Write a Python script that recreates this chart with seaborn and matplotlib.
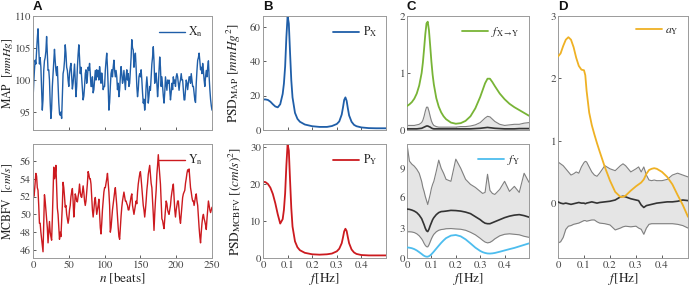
import numpy as np
import pandas as pd
import matplotlib
matplotlib.use("Agg")
import matplotlib.pyplot as plt
import seaborn as sns

# ---------------- data ----------------
map_series = [
    96.9, 99.5, 101.5, 103.1, 102.5, 104.5, 106.5, 108.0, 105.0, 102.5,
    103.5, 102.0, 98.5, 95.3, 97.0, 101.5, 103.0, 103.5, 104.5, 106.8,
    104.0, 101.5, 101.6, 100.0, 96.5, 94.0, 95.5, 99.0, 101.0, 103.0,
    104.8, 103.0, 101.5, 100.7, 102.1, 99.5, 96.5, 94.8, 94.5, 95.0,
    94.0, 97.5, 101.0, 101.6, 103.0, 105.5, 104.2, 102.0, 101.5, 100.0,
    99.0, 101.0, 102.0, 102.6, 100.5, 98.6, 99.5, 101.0, 102.5, 100.0,
    97.4, 99.0, 102.0, 104.0, 105.5, 103.5, 101.0, 102.0, 100.3, 98.5,
    96.9, 97.5, 99.0, 101.0, 101.6, 99.5, 100.5, 102.0, 101.5, 102.6,
    101.0, 99.0, 99.0, 100.5, 98.0, 98.5, 100.0, 101.5, 100.0, 101.6,
    100.5, 101.5, 100.0, 102.1, 101.0, 99.5, 101.1, 100.0, 98.5, 99.0,
    99.0, 101.5, 103.0, 104.2, 102.0, 99.0, 95.3, 96.5, 99.0, 101.0,
    101.6, 100.5, 102.0, 103.1, 101.5, 100.5, 101.5, 100.5, 98.5, 99.5,
    97.4, 98.5, 100.5, 102.1, 101.0, 99.5, 100.0, 101.5, 100.0, 98.5,
    100.5, 101.6, 100.0, 101.0, 99.0, 99.5, 101.5, 103.5, 106.3, 105.0,
    104.7, 102.0, 103.5, 104.2, 102.0, 99.0, 97.4, 98.5, 100.5, 101.0,
    100.5, 101.6, 100.0, 98.0, 96.4, 97.0, 95.3, 96.5, 99.0, 100.5,
    99.0, 96.4, 97.5, 99.0, 98.4, 100.5, 102.5, 103.6, 105.2, 103.0,
    99.5, 100.5, 101.1, 99.5, 97.4, 99.0, 101.5, 103.6, 102.0, 99.0,
    100.5, 99.0, 97.5, 96.4, 98.0, 100.5, 99.5, 98.4, 100.0, 99.5,
    100.0, 98.5, 96.9, 98.0, 99.5, 98.5, 100.5, 99.5, 100.0, 99.0,
    100.5, 101.0, 100.5, 99.5, 98.4, 99.5, 100.0, 101.0, 100.0, 100.0,
    98.5, 96.9, 96.9, 98.5, 100.0, 99.5, 98.5, 99.5, 100.5, 100.5,
    99.5, 101.0, 100.0, 99.0, 99.0, 98.0, 96.9, 96.5, 99.5, 101.5,
    103.1, 103.5, 104.2, 103.0, 101.6, 102.0, 101.0, 102.6, 101.5, 100.0,
    99.0, 100.5, 101.5, 100.5, 102.0, 103.0, 100.5, 98.5, 97.0, 96.0, 95.3,
]
mcbfv_series = [
    52.8, 52.0, 52.5, 53.5, 54.6, 54.3, 53.0, 52.7, 51.0, 49.0,
    49.0, 48.0, 47.3, 46.5, 45.8, 49.0, 52.2, 51.5, 50.5, 49.5,
    48.5, 46.8, 48.0, 49.2, 48.0, 47.5, 47.1, 49.5, 52.5, 55.3,
    54.0, 54.5, 55.5, 53.0, 50.7, 50.0, 48.5, 47.2, 48.0, 47.5,
    49.3, 51.0, 53.6, 53.0, 52.0, 50.8, 51.0, 50.0, 49.5, 49.0,
    49.5, 50.5, 51.0, 52.0, 52.5, 52.9, 51.5, 49.7, 50.8, 52.3,
    52.0, 51.5, 51.4, 52.0, 52.5, 53.4, 52.5, 52.0, 51.9, 52.5,
    53.2, 52.5, 51.5, 51.0, 51.5, 52.5, 53.5, 54.8, 54.5, 54.0,
    54.0, 53.4, 52.0, 50.5, 49.7, 50.5, 51.5, 51.9, 51.0, 50.0,
    50.5, 51.0, 51.7, 50.0, 48.5, 47.8, 49.0, 50.5, 51.5, 52.5,
    53.0, 53.0, 53.5, 54.0, 54.6, 53.5, 52.5, 51.0, 48.0, 48.5,
    49.5, 50.5, 51.2, 52.0, 52.5, 53.0, 52.0, 51.0, 49.7, 48.5,
    47.5, 47.2, 48.5, 49.8, 50.8, 51.5, 52.0, 52.5, 52.0, 51.5,
    51.5, 51.2, 51.0, 50.5, 50.5, 51.0, 51.5, 52.0, 52.3, 51.0,
    50.5, 50.0, 50.5, 51.0, 51.5, 51.2, 52.5, 53.4, 54.0, 54.5,
    54.8, 54.0, 53.0, 51.9, 51.0, 50.5, 49.7, 50.5, 51.5, 52.7,
    53.5, 54.5, 55.0, 55.5, 54.5, 53.5, 53.0, 51.5, 50.0, 48.2,
    50.0, 51.5, 52.7, 54.5, 55.5, 56.7, 55.5, 54.5, 53.4, 51.5,
    49.5, 49.3, 48.8, 48.4, 49.5, 50.5, 51.5, 51.2, 50.5, 50.2,
    50.0, 50.5, 51.0, 51.9, 52.5, 53.0, 53.4, 52.0, 50.5, 49.7,
    50.5, 51.0, 51.5, 51.5, 50.5, 49.5, 49.0, 50.0, 51.0, 51.9,
    52.3, 52.5, 52.7, 53.5, 54.0, 54.6, 55.0, 54.8, 55.1, 54.0,
    53.0, 52.5, 51.9, 51.5, 51.5, 51.0, 51.5, 52.0, 52.3, 51.5,
    51.0, 49.7, 48.5, 47.5, 46.8, 48.0, 49.0, 49.7, 50.0, 49.5,
    49.2, 48.8, 48.3, 49.5, 50.5, 51.5, 51.0, 50.5, 50.2, 50.5, 50.8,
]
beats = list(range(len(map_series)))

# Panel B: power spectral densities
freq_b = [0, 0.01, 0.02, 0.03, 0.04, 0.05, 0.06, 0.07, 0.08, 0.085, 0.09, 0.095,
          0.1, 0.105, 0.11, 0.115, 0.12, 0.13, 0.14, 0.15, 0.17, 0.2, 0.23, 0.26,
          0.28, 0.3, 0.31, 0.32, 0.325, 0.33, 0.335, 0.34, 0.345, 0.35, 0.36,
          0.37, 0.38, 0.4, 0.43, 0.46, 0.5]
psd_x = [17.8, 17.8, 17.5, 16.5, 15.0, 13.7, 13.2, 15.0, 21.0, 27.0, 37.0, 54.0,
         66.4, 62.0, 45.0, 29.0, 19.0, 10.0, 6.5, 4.8, 3.2, 2.2, 1.8, 1.8,
         2.3, 3.5, 5.0, 9.0, 13.0, 17.5, 19.0, 17.0, 12.5, 8.5, 4.8,
         3.0, 2.2, 1.5, 1.1, 1.0, 1.0]
psd_y = [20.6, 20.5, 20.0, 19.0, 17.3, 14.8, 11.8, 9.3, 10.5, 13.0, 17.5, 25.0,
         30.8, 29.0, 21.0, 13.5, 8.5, 4.5, 2.9, 2.1, 1.4, 1.0, 0.9, 1.0,
         1.2, 1.8, 2.5, 4.0, 5.5, 7.2, 7.9, 7.3, 5.6, 4.0, 2.3,
         1.5, 1.1, 0.8, 0.7, 0.7, 0.7]

# Panel C: causal (X->Y) and self measures with surrogate bands
freq_c = [0, 0.01, 0.02, 0.03, 0.04, 0.05, 0.06, 0.065, 0.07, 0.075, 0.08, 0.085,
          0.09, 0.095, 0.1, 0.105, 0.11, 0.12, 0.13, 0.14, 0.15, 0.16, 0.18, 0.2,
          0.22, 0.24, 0.26, 0.28, 0.3, 0.31, 0.32, 0.33, 0.34, 0.35, 0.36, 0.38,
          0.4, 0.42, 0.44, 0.46, 0.48, 0.5]
f_xy = [0.42, 0.45, 0.49, 0.55, 0.64, 0.78, 1.0, 1.18, 1.42, 1.68, 1.87, 1.9,
        1.75, 1.48, 1.2, 0.97, 0.8, 0.56, 0.41, 0.31, 0.24, 0.19, 0.13, 0.11,
        0.12, 0.16, 0.24, 0.38, 0.58, 0.7, 0.82, 0.9, 0.9, 0.84, 0.77, 0.64,
        0.54, 0.46, 0.4, 0.35, 0.3, 0.25]
f_xy_hi = [0.08, 0.08, 0.08, 0.08, 0.09, 0.1, 0.13, 0.17, 0.24, 0.33, 0.4, 0.4,
           0.33, 0.24, 0.16, 0.11, 0.08, 0.06, 0.05, 0.05, 0.05, 0.05, 0.05, 0.05,
           0.06, 0.06, 0.07, 0.09, 0.13, 0.17, 0.21, 0.24, 0.23, 0.19, 0.15, 0.1,
           0.08, 0.09, 0.1, 0.1, 0.12, 0.13]
f_xy_med = [0.02, 0.02, 0.02, 0.02, 0.02, 0.025, 0.03, 0.04, 0.05, 0.06, 0.07, 0.07,
            0.06, 0.05, 0.035, 0.025, 0.02, 0.02, 0.02, 0.02, 0.02, 0.02, 0.02, 0.02,
            0.02, 0.02, 0.02, 0.025, 0.03, 0.035, 0.04, 0.045, 0.04, 0.035, 0.03, 0.025,
            0.02, 0.02, 0.02, 0.025, 0.025, 0.025]
f_xy_lo = [0.004] * len(freq_c)

f_y = [1.05, 1.02, 0.97, 0.88, 0.75, 0.58, 0.4, 0.3, 0.22, 0.16, 0.13, 0.13,
       0.18, 0.26, 0.37, 0.5, 0.64, 0.93, 1.22, 1.5, 1.75, 1.97, 2.22, 2.28,
       2.15, 1.85, 1.45, 1.03, 0.7, 0.58, 0.5, 0.45, 0.44, 0.46, 0.5, 0.62,
       0.75, 0.88, 1.0, 1.15, 1.3, 1.45]
f_y_hi = [11.3, 9.6, 9.3, 9.1, 8.8, 8.4, 7.6, 7.0, 6.6, 6.1, 5.7, 5.3,
          5.8, 6.3, 6.9, 7.3, 7.6, 8.6, 9.7, 8.9, 8.4, 7.8, 7.6, 9.8,
          8.9, 7.8, 7.3, 7.0, 6.6, 6.4, 6.5, 8.3, 6.7, 6.4, 6.3, 6.8,
          7.6, 6.6, 7.1, 6.5, 8.4, 7.5]
f_y_med = [4.85, 4.82, 4.75, 4.65, 4.5, 4.25, 3.9, 3.6, 3.3, 2.95, 2.7, 2.62,
           2.85, 3.2, 3.5, 3.8, 4.0, 4.3, 4.5, 4.6, 4.62, 4.65, 4.72, 4.7,
           4.65, 4.55, 4.4, 4.1, 3.8, 3.6, 3.45, 3.4, 3.4, 3.5, 3.6, 3.8,
           4.0, 4.15, 4.25, 4.3, 4.2, 4.05]
f_y_lo = [2.6, 2.6, 2.58, 2.52, 2.4, 2.2, 1.9, 1.7, 1.45, 1.25, 1.12, 1.1,
          1.3, 1.6, 1.9, 2.15, 2.35, 2.6, 2.75, 2.82, 2.85, 2.9, 2.92, 2.88,
          2.85, 2.75, 2.55, 2.3, 1.95, 1.75, 1.58, 1.5, 1.55, 1.7, 1.9, 2.2,
          2.35, 2.4, 2.35, 2.3, 2.15, 2.05]

# Panel D
freq_d = [0, 0.01, 0.02, 0.03, 0.04, 0.05, 0.06, 0.07, 0.08, 0.09, 0.1, 0.105,
          0.11, 0.12, 0.13, 0.14, 0.15, 0.16, 0.18, 0.2, 0.22, 0.24, 0.25, 0.26,
          0.28, 0.3, 0.31, 0.32, 0.33, 0.34, 0.35, 0.36, 0.37, 0.38, 0.4, 0.42,
          0.44, 0.46, 0.48, 0.5]
a_y = [2.35, 2.4, 2.52, 2.62, 2.66, 2.62, 2.5, 2.33, 2.2, 2.14, 2.13, 2.05,
       1.8, 1.45, 1.25, 1.1, 0.96, 0.83, 0.58, 0.36, 0.18, 0.1, 0.1, 0.12,
       0.2, 0.27, 0.3, 0.33, 0.38, 0.47, 0.53, 0.55, 0.56, 0.55, 0.5, 0.42,
       0.3, 0.13, -0.03, -0.22]
a_y_hi = [0.66, 0.63, 0.6, 0.55, 0.5, 0.45, 0.47, 0.5, 0.48, 0.58, 0.65, 0.67,
          0.66, 0.58, 0.5, 0.45, 0.43, 0.48, 0.6, 0.55, 0.52, 0.6, 0.63, 0.6,
          0.5, 0.55, 0.58, 0.5, 0.58, 0.45, 0.37, 0.36, 0.37, 0.36, 0.36, 0.38,
          0.45, 0.48, 0.45, 0.42]
a_y_med = [0.02, 0.0, -0.01, 0.0, -0.01, -0.02, -0.01, 0.0, 0.01, 0.0, 0.0, -0.01,
           0.0, 0.01, 0.02, 0.01, 0.0, 0.01, 0.02, 0.03, 0.05, 0.1, 0.11, 0.1,
           0.07, 0.05, 0.04, -0.03, -0.07, -0.04, -0.03, -0.02, -0.01, 0.0, 0.01, 0.02,
           0.02, 0.03, 0.05, 0.04]
a_y_lo = [-0.64, -0.62, -0.55, -0.42, -0.37, -0.36, -0.34, -0.33, -0.32, -0.3, -0.28, -0.28,
          -0.29, -0.28, -0.27, -0.27, -0.3, -0.32, -0.33, -0.35, -0.43, -0.4, -0.38, -0.37,
          -0.38, -0.37, -0.4, -0.42, -0.5, -0.4, -0.34, -0.33, -0.33, -0.33, -0.33, -0.33,
          -0.33, -0.34, -0.36, -0.4]

# ---------------- style ----------------
sns.set_theme(style="white")
plt.rcParams["font.family"] = ["STIXGeneral", "DejaVu Serif"]
plt.rcParams["mathtext.fontset"] = "stix"

C_BLUE = "#1f5ea8"
C_RED = "#cc1a1f"
C_GREEN = "#78b436"
C_LBLUE = "#4dbdee"
C_ORANGE = "#efb124"
C_BAND = "#e5e5e5"
C_EDGE = "#808080"
C_MED = "#333333"

W, H = 689, 289
fig = plt.figure(figsize=(W / 100, H / 100), dpi=100)


def axes_px(l, t, r, b):
    return fig.add_axes([l / W, 1 - b / H, (r - l) / W, (b - t) / H])


def style_ax(ax):
    for s in ax.spines.values():
        s.set_visible(True)
        s.set_color("#9a9a9a")
        s.set_linewidth(0.7)
    ax.tick_params(direction="in", length=2.5, width=0.6, labelsize=7.8,
                   pad=1.5, colors="#444444", bottom=True, left=True)


def add_legend(ax, label):
    return ax.legend([ax.lines[-1]], [label], loc="upper right", frameon=False,
                     fontsize=8.5, handlelength=2.2, handletextpad=0.3,
                     borderaxespad=0.35)


def band(ax, f, lo, hi, med):
    ax.fill_between(f, lo, hi, color=C_BAND, lw=0, zorder=1)
    sns.lineplot(x=f, y=hi, ax=ax, color=C_EDGE, lw=0.8, zorder=2)
    sns.lineplot(x=f, y=lo, ax=ax, color=C_EDGE, lw=0.8, zorder=2)
    sns.lineplot(x=f, y=med, ax=ax, color=C_MED, lw=1.2, zorder=3)


def set_ylabel_px(ax, text, right_px, left_px, width_px, size=9.5):
    ax.set_ylabel(text, fontsize=size, color="#222222")
    ax.yaxis.set_label_coords((right_px - left_px) / width_px, 0.5)


# ---- Panel A ----
axA1 = axes_px(33, 16, 212, 130)
sns.lineplot(x=beats, y=map_series, ax=axA1, color=C_BLUE, lw=1.0)
axA1.set_xlim(0, 250)
axA1.set_ylim(92.2, 110)
axA1.set_yticks([95, 100, 105, 110])
axA1.set_xticks([0, 50, 100, 150, 200, 250])
axA1.set_xticklabels([])
set_ylabel_px(axA1, r"MAP  $[mmHg]$", 15, 33, 179, size=8.5)
style_ax(axA1)
add_legend(axA1, r"X$_\mathrm{n}$")

axA2 = axes_px(33, 144, 212, 258)
sns.lineplot(x=beats, y=mcbfv_series, ax=axA2, color=C_RED, lw=1.0)
axA2.set_xlim(0, 250)
axA2.set_ylim(45.1, 57.9)
axA2.set_yticks([46, 48, 50, 52, 54, 56])
axA2.set_xticks([0, 50, 100, 150, 200, 250])
set_ylabel_px(axA2, r"MCBFV  $[cm/s]$", 15, 33, 179, size=8.5)
axA2.set_xlabel(r"$n$ [beats]", fontsize=9.5, color="#222222", labelpad=1)
style_ax(axA2)
add_legend(axA2, r"Y$_\mathrm{n}$")

# ---- Panel B ----
axB1 = axes_px(263, 16, 386, 130)
sns.lineplot(x=freq_b, y=psd_x, ax=axB1, color=C_BLUE, lw=1.3)
axB1.set_xlim(0, 0.5)
axB1.set_ylim(0, max(psd_x))
axB1.set_yticks([0, 20, 40, 60])
axB1.set_xticks([0, 0.1, 0.2, 0.3, 0.4])
axB1.set_xticklabels([])
set_ylabel_px(axB1, r"PSD$_\mathrm{MAP}$ $[mmHg^2]$", 243, 263, 123)
style_ax(axB1)
add_legend(axB1, r"P$_\mathrm{X}$")

axB2 = axes_px(263, 144, 386, 258)
sns.lineplot(x=freq_b, y=psd_y, ax=axB2, color=C_RED, lw=1.3)
axB2.set_xlim(0, 0.5)
axB2.set_ylim(0, max(psd_y))
axB2.set_yticks([0, 10, 20, 30])
axB2.set_xticks([0, 0.1, 0.2, 0.3, 0.4])
axB2.set_xticklabels(["0", "0.1", "0.2", "0.3", "0.4"])
set_ylabel_px(axB2, r"PSD$_\mathrm{MCBFV}$ $[(cm/s)^2]$", 243, 263, 123)
axB2.set_xlabel(r"$f$[Hz]", fontsize=9.5, color="#222222", labelpad=1)
style_ax(axB2)
add_legend(axB2, r"P$_\mathrm{Y}$")

# ---- Panel C ----
axC1 = axes_px(407, 16, 529, 130)
band(axC1, freq_c, f_xy_lo, f_xy_hi, f_xy_med)
sns.lineplot(x=freq_c, y=f_xy, ax=axC1, color=C_GREEN, lw=1.3, zorder=4)
axC1.set_xlim(0, 0.5)
axC1.set_ylim(0, 2)
axC1.set_yticks([0, 1, 2])
axC1.set_xticks([0, 0.1, 0.2, 0.3, 0.4])
axC1.set_xticklabels([])
style_ax(axC1)
add_legend(axC1, r"$f_{\mathrm{X}\rightarrow\mathrm{Y}}$")

axC2 = axes_px(407, 144, 529, 258)
band(axC2, freq_c, f_y_lo, f_y_hi, f_y_med)
sns.lineplot(x=freq_c, y=f_y, ax=axC2, color=C_LBLUE, lw=1.3, zorder=4)
axC2.set_xlim(0, 0.5)
axC2.set_ylim(0, max(f_y_hi))
axC2.set_yticks([0, 3, 6, 9])
axC2.set_xticks([0, 0.1, 0.2, 0.3, 0.4])
axC2.set_xticklabels(["0", "0.1", "0.2", "0.3", "0.4"])
axC2.set_xlabel(r"$f$[Hz]", fontsize=9.5, color="#222222", labelpad=1)
style_ax(axC2)
add_legend(axC2, r"$f_\mathrm{Y}$")

# ---- Panel D ----
axD = axes_px(558, 16, 688, 258)
band(axD, freq_d, a_y_lo, a_y_hi, a_y_med)
sns.lineplot(x=freq_d, y=a_y, ax=axD, color=C_ORANGE, lw=1.3, zorder=4)
axD.set_xlim(0, 0.5)
axD.set_ylim(-0.88, 3)
axD.set_yticks([0, 1, 2, 3])
axD.set_xticks([0, 0.1, 0.2, 0.3, 0.4])
axD.set_xticklabels(["0", "0.1", "0.2", "0.3", "0.4"])
axD.set_xlabel(r"$f$[Hz]", fontsize=9.5, color="#222222", labelpad=1)
style_ax(axD)
add_legend(axD, r"$a_\mathrm{Y}$")

# panel letters
for letter, xpx in [("A", 33), ("B", 263), ("C", 407), ("D", 558)]:
    fig.text(xpx / W, 1 - 7 / H, letter, fontsize=9.5, fontweight="bold",
             family=["Liberation Sans", "DejaVu Sans"], ha="left", va="center",
             color="#111111")

fig.savefig("out.png", dpi=100)
